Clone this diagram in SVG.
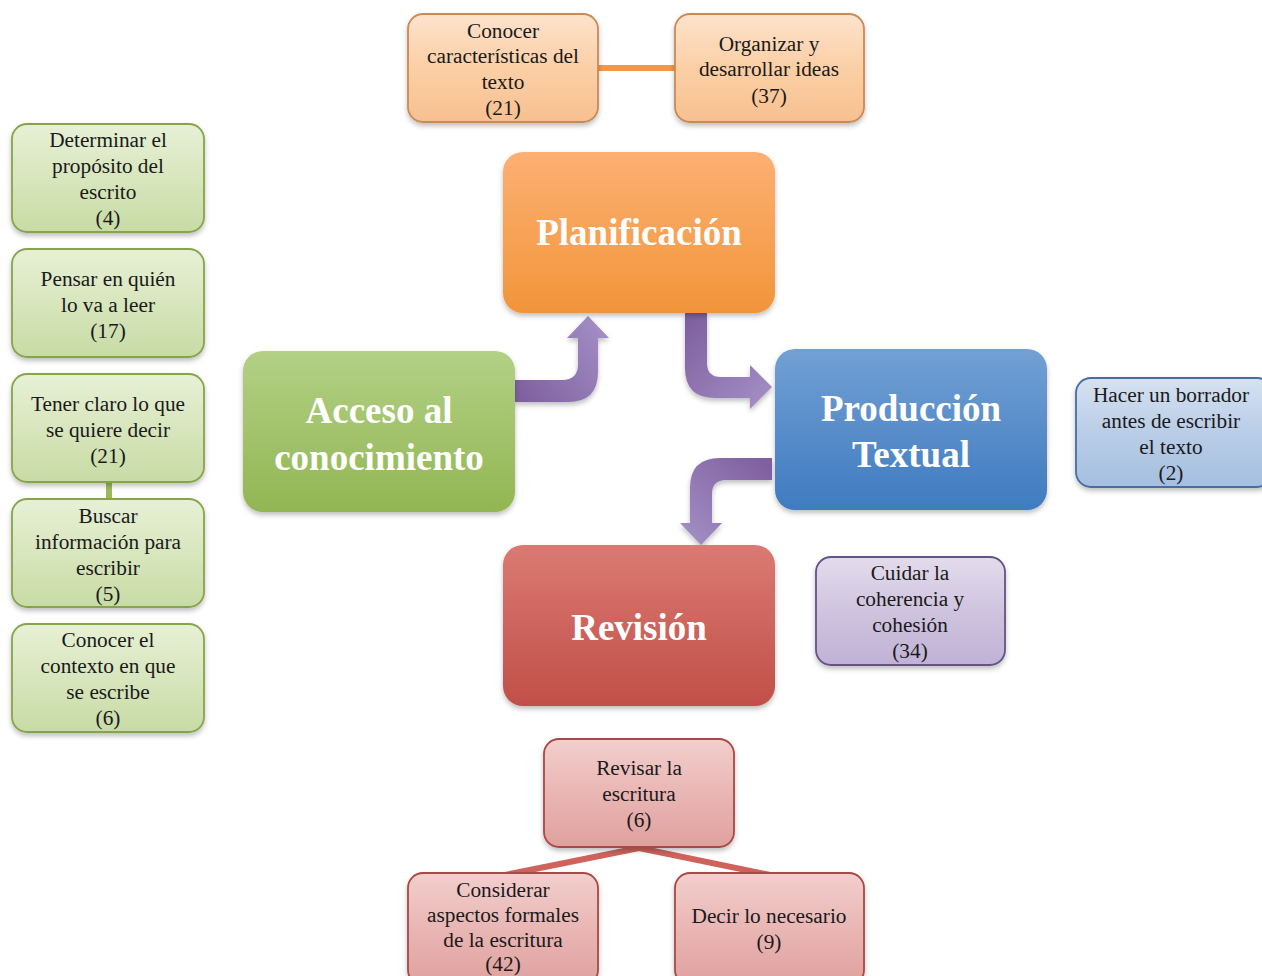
<svg xmlns="http://www.w3.org/2000/svg" width="1262" height="976" viewBox="0 0 1262 976">
<defs>
<filter id="sh" x="-10%" y="-10%" width="120%" height="130%">
<feDropShadow dx="0" dy="3" stdDeviation="2.5" flood-color="#000" flood-opacity="0.25"/>
</filter>
<linearGradient id="gOr" x1="0" y1="0" x2="0" y2="1"><stop offset="0" stop-color="#fdb073"/><stop offset="1" stop-color="#f1953a"/></linearGradient>
<linearGradient id="gGr" x1="0" y1="0" x2="0" y2="1"><stop offset="0" stop-color="#b3d085"/><stop offset="1" stop-color="#92b653"/></linearGradient>
<linearGradient id="gBl" x1="0" y1="0" x2="0" y2="1"><stop offset="0" stop-color="#72a0d4"/><stop offset="1" stop-color="#3f7bc0"/></linearGradient>
<linearGradient id="gRd" x1="0" y1="0" x2="0" y2="1"><stop offset="0" stop-color="#da7a72"/><stop offset="1" stop-color="#c14f49"/></linearGradient>
<linearGradient id="sOr" x1="0" y1="0" x2="0" y2="1"><stop offset="0" stop-color="#fde3cc"/><stop offset="0.5" stop-color="#fbcfa6"/><stop offset="1" stop-color="#f7c090"/></linearGradient>
<linearGradient id="sGr" x1="0" y1="0" x2="0" y2="1"><stop offset="0" stop-color="#e7f0d6"/><stop offset="0.5" stop-color="#d8e6bd"/><stop offset="1" stop-color="#c8dba5"/></linearGradient>
<linearGradient id="sBl" x1="0" y1="0" x2="0" y2="1"><stop offset="0" stop-color="#d6e2f1"/><stop offset="0.5" stop-color="#b9cde7"/><stop offset="1" stop-color="#a5bfe0"/></linearGradient>
<linearGradient id="sPu" x1="0" y1="0" x2="0" y2="1"><stop offset="0" stop-color="#e3dcec"/><stop offset="0.5" stop-color="#cfc4df"/><stop offset="1" stop-color="#c0b2d5"/></linearGradient>
<linearGradient id="sRd" x1="0" y1="0" x2="0" y2="1"><stop offset="0" stop-color="#f2cfcd"/><stop offset="0.5" stop-color="#e9b6b4"/><stop offset="1" stop-color="#dfa19e"/></linearGradient>
<linearGradient id="a1" gradientUnits="userSpaceOnUse" x1="515" y1="391" x2="598" y2="330"><stop offset="0" stop-color="#7f60a0"/><stop offset="1" stop-color="#a08bc2"/></linearGradient>
<linearGradient id="a2" gradientUnits="userSpaceOnUse" x1="696" y1="313" x2="772" y2="387"><stop offset="0" stop-color="#7f60a0"/><stop offset="1" stop-color="#a08bc2"/></linearGradient>
<linearGradient id="a3" gradientUnits="userSpaceOnUse" x1="772" y1="469" x2="701" y2="545"><stop offset="0" stop-color="#7f60a0"/><stop offset="1" stop-color="#a08bc2"/></linearGradient>
</defs>
<style>
.main{font-family:"Liberation Serif","Times New Roman",serif;font-weight:bold;font-size:37px;fill:#fff;text-anchor:middle}
.sm{font-family:"Liberation Serif","Times New Roman",serif;font-size:21.3px;fill:#1a1a1a;text-anchor:middle}
.box{filter:url(#sh)}
.bOr{fill:url(#sOr);stroke:#c98a55;stroke-width:1.8}
.bGr{fill:url(#sGr);stroke:#86a54c;stroke-width:1.8}
.bBl{fill:url(#sBl);stroke:#466ea3;stroke-width:1.8}
.bPu{fill:url(#sPu);stroke:#665286;stroke-width:1.8}
.bRd{fill:url(#sRd);stroke:#a84944;stroke-width:1.8}
</style>
<rect width="1262" height="976" fill="#fff"/>

<g id="connectors">
<line x1="598" y1="68" x2="675" y2="68" stroke="#f79646" stroke-width="6"/>
<line x1="109" y1="482" x2="109" y2="499" stroke="#9bbb59" stroke-width="6"/>
<line x1="639" y1="848" x2="505" y2="875" stroke="#d0625c" stroke-width="6"/>
<line x1="639" y1="848" x2="770" y2="875" stroke="#d0625c" stroke-width="6"/>
<path class="box" fill="url(#a1)" d="M515 380 L562 380 Q578 380 578 364 L578 338 L567 338 L588 316 L609 338 L598 338 L598 372 Q598 402 568 402 L515 402 Z"/>
<path class="box" fill="url(#a2)" d="M685 313 L707 313 L707 363 Q707 377 721 377 L750 377 L750 365 L772 387 L750 409 L750 398 L715 398 Q685 398 685 368 Z"/>
<path class="box" fill="url(#a3)" d="M772 458 L720 458 Q690 458 690 488 L690 523 L680 523 L701 545 L722 523 L712 523 L712 494 Q712 480 726 480 L772 480 Z"/>
</g>

<g id="planificacion">
<rect class="box" x="503" y="152" width="272" height="161" rx="20" fill="url(#gOr)"/>
<text class="main" x="639" y="245">Planificación</text>
</g>
<g id="acceso">
<rect class="box" x="243" y="351" width="272" height="161" rx="20" fill="url(#gGr)"/>
<text class="main" x="379" y="423">Acceso al</text>
<text class="main" x="379" y="470">conocimiento</text>
</g>
<g id="produccion">
<rect class="box" x="775" y="349" width="272" height="161" rx="20" fill="url(#gBl)"/>
<text class="main" x="911" y="421">Producción</text>
<text class="main" x="911" y="467">Textual</text>
</g>
<g id="revision">
<rect class="box" x="503" y="545" width="272" height="161" rx="20" fill="url(#gRd)"/>
<text class="main" x="639" y="640">Revisión</text>
</g>

<g id="conocer-caracteristicas">
<rect class="box bOr" x="408" y="14" width="190" height="108" rx="15"/>
<text class="sm" x="503" y="38">Conocer</text>
<text class="sm" x="503" y="63">características del</text>
<text class="sm" x="503" y="89">texto</text>
<text class="sm" x="503" y="115">(21)</text>
</g>
<g id="organizar">
<rect class="box bOr" x="675" y="14" width="189" height="108" rx="15"/>
<text class="sm" x="769" y="51">Organizar y</text>
<text class="sm" x="769" y="76">desarrollar ideas</text>
<text class="sm" x="769" y="103">(37)</text>
</g>

<g id="determinar">
<rect class="box bGr" x="12" y="124" width="192" height="108" rx="15"/>
<text class="sm" x="108" y="147">Determinar el</text>
<text class="sm" x="108" y="173">propósito del</text>
<text class="sm" x="108" y="199">escrito</text>
<text class="sm" x="108" y="225">(4)</text>
</g>
<g id="pensar">
<rect class="box bGr" x="12" y="249" width="192" height="108" rx="15"/>
<text class="sm" x="108" y="286">Pensar en quién</text>
<text class="sm" x="108" y="312">lo va a leer</text>
<text class="sm" x="108" y="338">(17)</text>
</g>
<g id="tener-claro">
<rect class="box bGr" x="12" y="374" width="192" height="108" rx="15"/>
<text class="sm" x="108" y="411">Tener claro lo que</text>
<text class="sm" x="108" y="437">se quiere decir</text>
<text class="sm" x="108" y="463">(21)</text>
</g>
<g id="buscar">
<rect class="box bGr" x="12" y="499" width="192" height="108" rx="15"/>
<text class="sm" x="108" y="523">Buscar</text>
<text class="sm" x="108" y="549">información para</text>
<text class="sm" x="108" y="575">escribir</text>
<text class="sm" x="108" y="601">(5)</text>
</g>
<g id="contexto">
<rect class="box bGr" x="12" y="624" width="192" height="108" rx="15"/>
<text class="sm" x="108" y="647">Conocer el</text>
<text class="sm" x="108" y="673">contexto en que</text>
<text class="sm" x="108" y="699">se escribe</text>
<text class="sm" x="108" y="725">(6)</text>
</g>

<g id="borrador">
<rect class="box bBl" x="1076" y="378" width="196" height="109" rx="15"/>
<text class="sm" x="1171" y="402">Hacer un borrador</text>
<text class="sm" x="1171" y="428">antes de escribir</text>
<text class="sm" x="1171" y="454">el texto</text>
<text class="sm" x="1171" y="480">(2)</text>
</g>

<g id="coherencia">
<rect class="box bPu" x="816" y="557" width="189" height="108" rx="15"/>
<text class="sm" x="910" y="580">Cuidar la</text>
<text class="sm" x="910" y="606">coherencia y</text>
<text class="sm" x="910" y="632">cohesión</text>
<text class="sm" x="910" y="658">(34)</text>
</g>

<g id="revisar-escritura">
<rect class="box bRd" x="544" y="739" width="190" height="108" rx="15"/>
<text class="sm" x="639" y="775">Revisar la</text>
<text class="sm" x="639" y="801">escritura</text>
<text class="sm" x="639" y="827">(6)</text>
</g>
<g id="considerar">
<rect class="box bRd" x="408" y="873" width="190" height="112" rx="15"/>
<text class="sm" x="503" y="897">Considerar</text>
<text class="sm" x="503" y="922">aspectos formales</text>
<text class="sm" x="503" y="947">de la escritura</text>
<text class="sm" x="503" y="971">(42)</text>
</g>
<g id="decir">
<rect class="box bRd" x="675" y="873" width="189" height="112" rx="15"/>
<text class="sm" x="769" y="923">Decir lo necesario</text>
<text class="sm" x="769" y="949">(9)</text>
</g>
</svg>
